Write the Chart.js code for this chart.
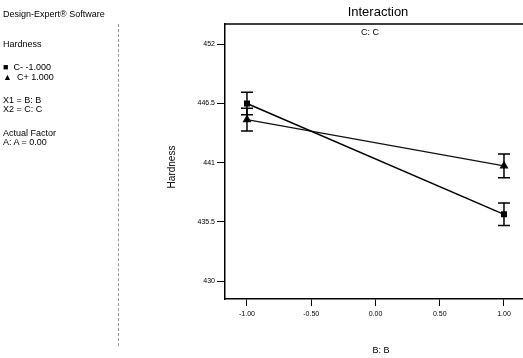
<!DOCTYPE html>
<html><head><meta charset="utf-8">
<script src="https://cdn.jsdelivr.net/npm/chart.js@4.4.0/dist/chart.umd.min.js"></script>
<style>
html,body{margin:0;padding:0;background:#fff;}
#wrap{position:relative;width:523px;height:358px;font-family:"Liberation Sans",Arial,sans-serif;color:#000;overflow:hidden;}
#c{position:absolute;left:0;top:0;}
.t{position:absolute;font-size:9px;white-space:nowrap;line-height:10px;}
#divider{position:absolute;left:118px;top:24px;height:322px;border-left:1px dashed #999;}
#title{position:absolute;left:328px;width:100px;text-align:center;top:5px;font-size:13px;line-height:14px;}
#sub{position:absolute;left:340px;width:60px;text-align:center;top:28px;font-size:9px;line-height:9px;}
#ytitle{position:absolute;left:122px;top:162px;width:100px;text-align:center;font-size:10px;line-height:10px;transform:rotate(-90deg);}
#xtitle{position:absolute;left:331px;width:100px;text-align:center;top:345px;font-size:9px;line-height:10px;}
</style></head>
<body>
<div id="wrap">
<canvas id="c" width="523" height="358"></canvas>
<div class="t" style="left:3px;top:9px;">Design-Expert® Software</div>
<div class="t" style="left:3px;top:39px;">Hardness</div>
<div class="t" style="left:3px;top:62px;">■&nbsp;&nbsp;C- -1.000</div>
<div class="t" style="left:3px;top:72px;">▲&nbsp;&nbsp;C+ 1.000</div>
<div class="t" style="left:3px;top:95px;">X1 = B: B</div>
<div class="t" style="left:3px;top:104px;">X2 = C: C</div>
<div class="t" style="left:3px;top:128px;">Actual Factor</div>
<div class="t" style="left:3px;top:137px;">A: A = 0.00</div>
<div id="divider"></div>
<div id="title">Interaction</div>
<div id="sub">C: C</div>
<div id="ytitle">Hardness</div>
<div id="xtitle">B: B</div>
</div>
<script>
const bLevels = [-1, 1];
const cMinusLabel = 'C- -1.000';
const cPlusLabel = 'C+ 1.000';
const cMinus = [446.5, 436.2];
const cPlus = [445.0, 440.7];
const cMinusErr = [1.05, 1.05];
const cPlusErr = [1.05, 1.1];
const xTicks = [-1, -0.5, 0, 0.5, 1];
const xTickLabels = ['-1.00', '-0.50', '0.00', '0.50', '1.00'];
const yTicks = [430, 435.5, 441, 446.5, 452];
const yTickLabels = ['430', '435.5', '441', '446.5', '452'];

const errs = [cMinusErr, cPlusErr];

const errorBars = {
  id: 'errorBars',
  afterDatasetsDraw(chart) {
    const {ctx, scales: {x, y}} = chart;
    ctx.save();
    ctx.strokeStyle = '#000';
    ctx.lineWidth = 1.5;
    chart.data.datasets.forEach((ds, di) => {
      ds.data.forEach((p, i) => {
        const e = errs[di][i];
        const px = x.getPixelForValue(p.x);
        const yt = y.getPixelForValue(p.y + e);
        const yb = y.getPixelForValue(p.y - e);
        ctx.beginPath();
        ctx.moveTo(px, yt); ctx.lineTo(px, yb);
        ctx.moveTo(px - 6, yt); ctx.lineTo(px + 6, yt);
        ctx.moveTo(px - 6, yb); ctx.lineTo(px + 6, yb);
        ctx.stroke();
      });
    });
    ctx.restore();
  }
};
const topBorder = {
  id: 'topBorder',
  afterDraw(chart) {
    const {ctx, chartArea: a} = chart;
    ctx.save();
    ctx.strokeStyle = '#000';
    ctx.lineWidth = 1.5;
    ctx.beginPath();
    ctx.moveTo(a.left, a.top); ctx.lineTo(a.right, a.top);
    ctx.stroke();
    ctx.restore();
  }
};

const tickFont = {family: '"Liberation Sans", Arial, sans-serif', size: 7};
new Chart(document.getElementById('c'), {
  type: 'line',
  data: {
    datasets: [
      {label: cMinusLabel, data: bLevels.map((b, i) => ({x: b, y: cMinus[i]})),
       borderColor: '#000', backgroundColor: '#000', borderWidth: 1.5,
       pointStyle: 'rect', pointRadius: 3.2, pointHoverRadius: 3.2},
      {label: cPlusLabel, data: bLevels.map((b, i) => ({x: b, y: cPlus[i]})),
       borderColor: '#111', backgroundColor: '#000', borderWidth: 1.2,
       pointStyle: 'triangle', pointRadius: 4, pointHoverRadius: 4}
    ]
  },
  options: {
    responsive: false, animation: false, events: [],
    layout: {autoPadding: false, padding: {top: 24, left: 0, right: 0, bottom: 0}},
    plugins: {legend: {display: false}, tooltip: {enabled: false}},
    scales: {
      x: {
        type: 'linear', min: -1.171, max: 1.148,
        afterBuildTicks: s => { s.ticks = xTicks.map(v => ({value: v})); },
        afterFit: s => { s.height = 59; },
        ticks: {font: tickFont, color: '#000', padding: 4, maxRotation: 0, autoSkip: false,
          callback: (v, i) => xTickLabels[i]},
        grid: {drawOnChartArea: false, drawTicks: true, tickLength: 7, color: '#000', lineWidth: 1},
        border: {display: true, color: '#000', width: 1.5},
        title: {display: false}
      },
      y: {
        type: 'linear', min: 428.33, max: 453.89,
        afterBuildTicks: s => { s.ticks = yTicks.map(v => ({value: v})); },
        afterFit: s => { s.width = 225; },
        ticks: {font: tickFont, color: '#000', padding: 2, autoSkip: false,
          callback: (v, i) => yTickLabels[i]},
        grid: {drawOnChartArea: false, drawTicks: true, tickLength: 8, color: '#000', lineWidth: 1},
        border: {display: true, color: '#000', width: 1.5},
        title: {display: false}
      }
    }
  },
  plugins: [errorBars, topBorder]
});
</script>
</body></html>
